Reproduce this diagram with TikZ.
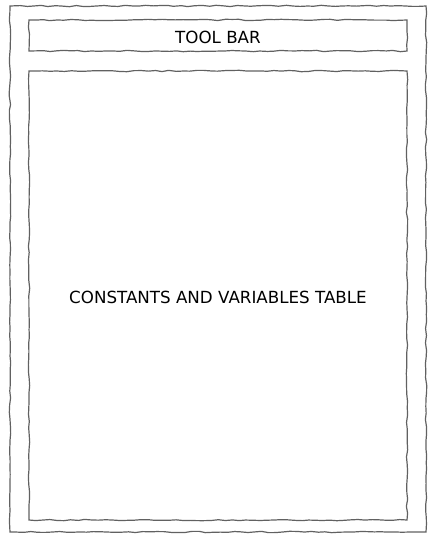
\documentclass[tikz,border=0pt]{standalone}
\usepackage{fontspec}
\setmainfont{DejaVu Sans}
\usetikzlibrary{decorations.pathmorphing}
\begin{document}
\begin{tikzpicture}[x=1pt,y=-1pt,
  sketch/.style={draw=black!62,line width=1.2pt,decorate,decoration={random steps,segment length=7pt,amplitude=0.7pt}},
  lbl/.style={font=\fontsize{16.7}{19}\selectfont,text=black}]
\useasboundingbox (0,0) rectangle (436,541);
\draw[sketch] (10,6) rectangle (426,532);
\draw[sketch] (29,20) rectangle (407,51);
\draw[sketch] (29,71) rectangle (407,520);
\node[lbl] (toolbar) at (218,37) {TOOL BAR};
\node[lbl] (table) at (218,297) {CONSTANTS AND VARIABLES TABLE};
\end{tikzpicture}
\end{document}
